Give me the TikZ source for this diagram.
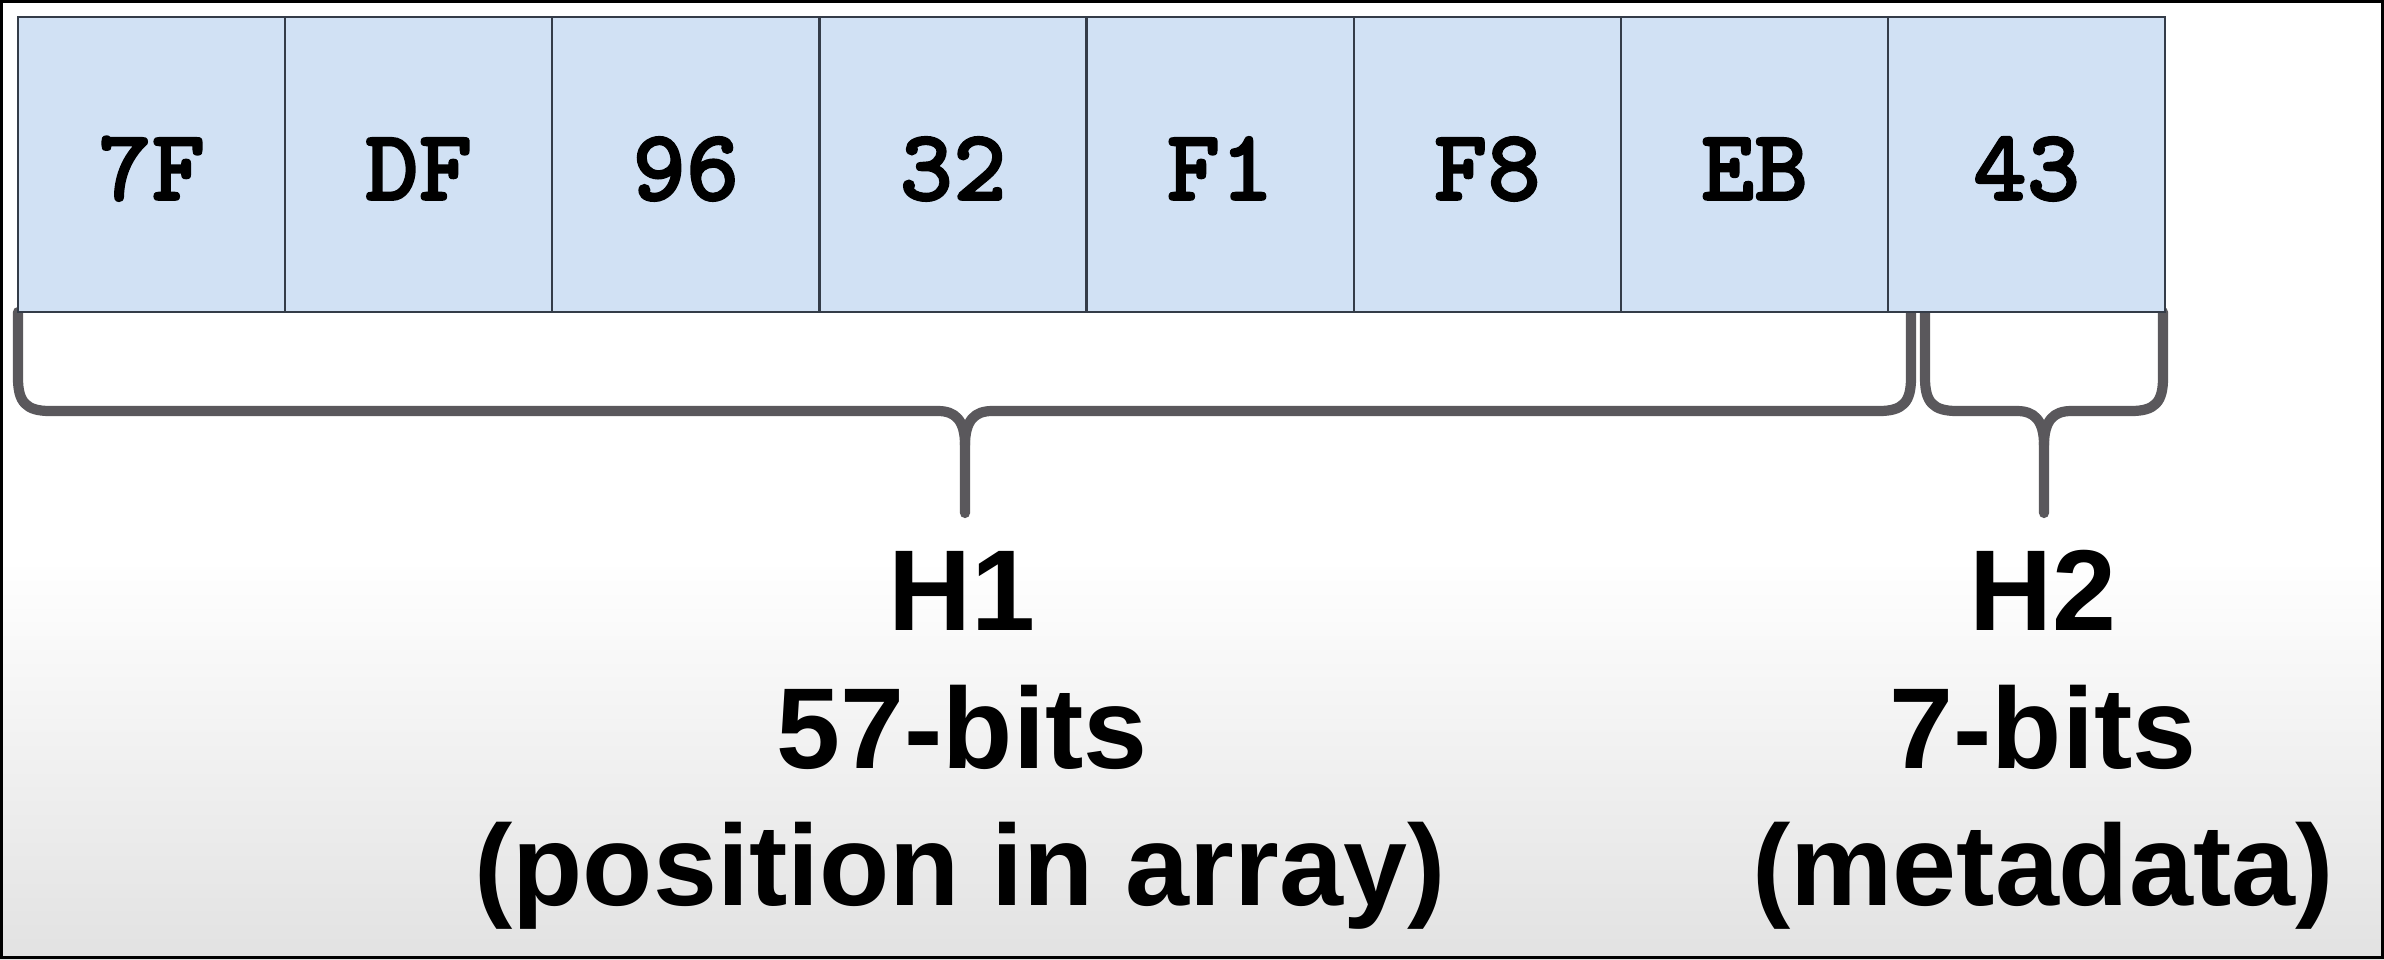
\documentclass[tikz,border=0pt]{standalone}
\usepackage{fontspec}
\setmainfont{Liberation Sans}
\newfontfamily\cellmono{lmmonolt10-bold.otf}[FakeBold=1.6]
\definecolor{cellfill}{RGB}{209,225,244}
\definecolor{cellline}{RGB}{52,60,72}
\definecolor{bracecol}{RGB}{90,88,92}
\definecolor{bggray}{RGB}{226,226,226}
\newcommand{\cellfont}{\fontsize{29pt}{31pt}\cellmono}
\begin{document}
\begin{tikzpicture}[x=0.01cm,y=-0.01cm,
  cell/.style={draw=cellline, fill=cellfill, line width=0.65pt, inner sep=0pt, outer sep=0pt,
    minimum width=2.67cm, text height=1.83cm, text depth=1.12cm,
    font=\cellfont},
  bracestyle/.style={draw=bracecol, line width=2.9pt, line cap=round, line join=round},
  lab/.style={anchor=base, inner sep=0pt, font=\fontsize{32.7pt}{39pt}\bfseries}]
\useasboundingbox (0,0) rectangle (2384,959);
\fill[white] (0,0) rectangle (2384,959);
\shade[top color=white, bottom color=bggray] (0,560) rectangle (2384,959);
\draw[black, line width=0.8pt] (1.5,1.5) rectangle (2382.5,957.5);
% braces
\draw[bracestyle] (18,312) -- (18,378) .. controls (18,402) and (26,411) .. (50,411) -- (938,411)
  .. controls (955,411) and (965,420) .. (965,445) -- (965,513);
\draw[bracestyle] (965,445) .. controls (965,420) and (975,411) .. (992,411) -- (1879,411)
  .. controls (1903,411) and (1911,402) .. (1911,378) -- (1911,312);
\draw[bracestyle] (1925,312) -- (1925,378) .. controls (1925,402) and (1933,411) .. (1957,411) -- (2017,411)
  .. controls (2034,411) and (2044,420) .. (2044,445) -- (2044,513);
\draw[bracestyle] (2044,445) .. controls (2044,420) and (2054,411) .. (2071,411) -- (2131,411)
  .. controls (2155,411) and (2163,402) .. (2163,378) -- (2163,312);
% cells
\node[cell, anchor=north west] (c1) at (18,17) {7F};
\node[cell, anchor=north west] (c2) at (c1.north east) {DF};
\node[cell, anchor=north west] (c3) at (c2.north east) {96};
\node[cell, anchor=north west] (c4) at (c3.north east) {32};
\node[cell, anchor=north west] (c5) at (c4.north east) {F1};
\node[cell, anchor=north west] (c6) at (c5.north east) {F8};
\node[cell, anchor=north west] (c7) at (c6.north east) {EB};
\node[cell, anchor=north west, minimum width=2.77cm] (c8) at (c7.north east) {43};
% labels
\node[lab] (h1a) at (962,630) {H1};
\node[lab] (h1b) at (962,768) {57-bits};
\node[lab] (h1c) at (960,905) {(position in array)};
\node[lab] (h2a) at (2043,630) {H2};
\node[lab] (h2b) at (2043,768) {7-bits};
\node[lab] (h2c) at (2043,905) {(metadata)};
\end{tikzpicture}
\end{document}
